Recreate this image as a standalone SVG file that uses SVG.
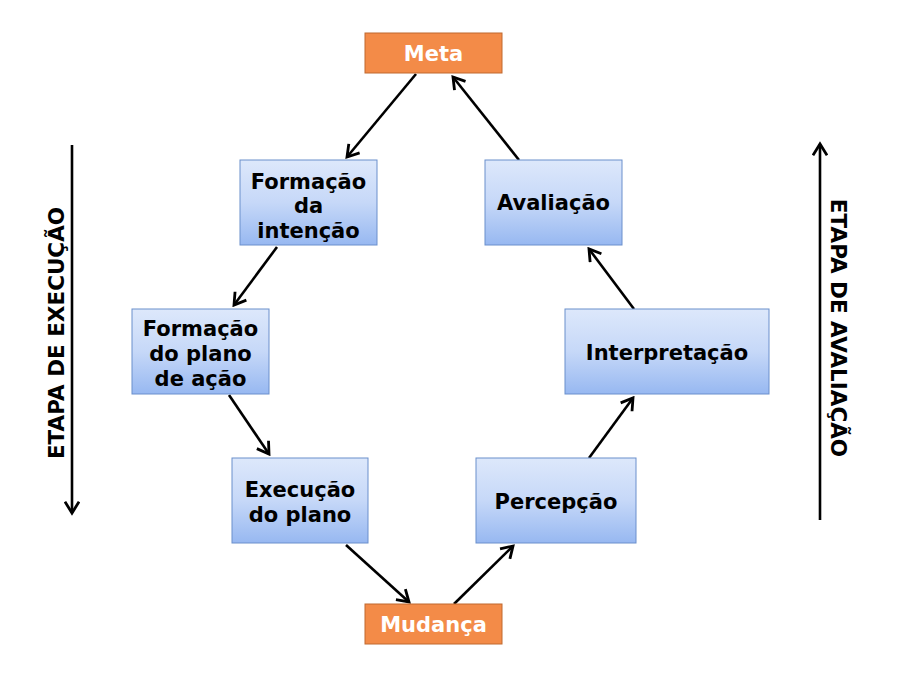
<svg xmlns="http://www.w3.org/2000/svg" width="916" height="685" viewBox="0 0 916 685">
<style>
.blue{fill:url(#bg);stroke:#6a8fcc;stroke-width:1}
.orange{fill:#f38b48;stroke:#c0692f;stroke-width:1}
.t{font-family:"DejaVu Sans","Liberation Sans",sans-serif;font-weight:bold;font-size:21px;text-anchor:middle;fill:#000}
.tw{fill:#fff}
.c{stroke:#000;stroke-width:2.6;fill:none;marker-end:url(#ah)}
.side{font-family:"DejaVu Sans","Liberation Sans",sans-serif;font-weight:bold;font-size:21.5px;text-anchor:middle;fill:#000}
</style>
<defs>
<linearGradient id="bg" x1="0" y1="0" x2="0" y2="1">
<stop offset="0" stop-color="#dde8fb"/>
<stop offset="0.5" stop-color="#c6d8f8"/>
<stop offset="1" stop-color="#97b8f1"/>
</linearGradient>
<marker id="ah" viewBox="0 0 12 12" refX="10" refY="6" markerWidth="6.5" markerHeight="6.5" markerUnits="strokeWidth" orient="auto">
<path d="M2,1 L10,6 L2,11" fill="none" stroke="#000" stroke-width="2"/>
</marker>
</defs>
<rect width="916" height="685" fill="#fff"/>
<g id="connectors">
<line class="c" x1="416" y1="74" x2="347" y2="157"/>
<line class="c" x1="519" y1="160" x2="453" y2="77"/>
<line class="c" x1="277" y1="247" x2="234" y2="305"/>
<line class="c" x1="229" y1="395" x2="269" y2="454"/>
<line class="c" x1="346" y1="545" x2="409" y2="602"/>
<line class="c" x1="454" y1="604" x2="513" y2="546"/>
<line class="c" x1="589" y1="458" x2="633" y2="398"/>
<line class="c" x1="634" y1="309" x2="589" y2="249"/>
<line class="c" x1="72" y1="145" x2="72" y2="513"/>
<line class="c" x1="820" y1="520" x2="820" y2="144"/>
</g>
<g id="meta"><rect class="orange" x="365" y="33" width="137" height="40"/><text class="t tw" x="433.5" y="61">Meta</text></g>
<g id="formacao-intencao"><rect class="blue" x="240" y="160" width="137" height="85"/><text class="t" x="308.5" y="189">Formação</text><text class="t" x="308.5" y="213">da</text><text class="t" x="308.5" y="238">intenção</text></g>
<g id="avaliacao"><rect class="blue" x="485" y="160" width="137" height="85"/><text class="t" x="553.5" y="210">Avaliação</text></g>
<g id="formacao-plano"><rect class="blue" x="132" y="309" width="137" height="85"/><text class="t" x="200.5" y="336">Formação</text><text class="t" x="200.5" y="361">do plano</text><text class="t" x="200.5" y="386">de ação</text></g>
<g id="interpretacao"><rect class="blue" x="565" y="309" width="204" height="85"/><text class="t" x="667" y="360">Interpretação</text></g>
<g id="execucao-plano"><rect class="blue" x="232" y="458" width="136" height="85"/><text class="t" x="300" y="497">Execução</text><text class="t" x="300" y="522">do plano</text></g>
<g id="percepcao"><rect class="blue" x="476" y="458" width="160" height="85"/><text class="t" x="556" y="509">Percepção</text></g>
<g id="mudanca"><rect class="orange" x="365" y="604" width="137" height="40"/><text class="t tw" x="433.5" y="632">Mudança</text></g>
<g id="etapa-execucao"><text class="side" transform="translate(64,333) rotate(-90)">ETAPA DE EXECUÇÃO</text></g>
<g id="etapa-avaliacao"><text class="side" transform="translate(831,328) rotate(90)">ETAPA DE AVALIAÇÃO</text></g>
</svg>
